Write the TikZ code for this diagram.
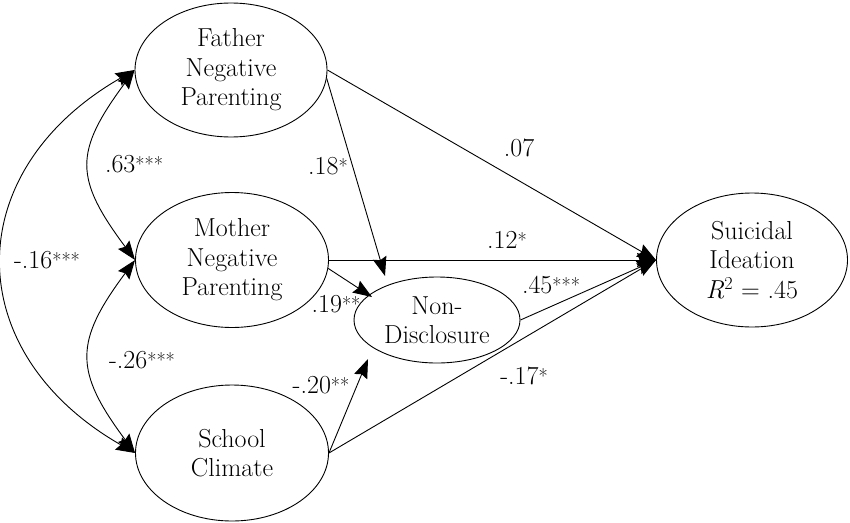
\documentclass[tikz,border=0pt]{standalone}
\usetikzlibrary{shapes.geometric,arrows.meta}
\newcommand\sigst[1]{\raisebox{1pt}{\fontsize{20}{20}\selectfont #1}}
\begin{document}
\begin{tikzpicture}[x=1pt,y=1pt,
  lv/.style={ellipse,draw,line width=0.9pt,inner sep=0pt,align=center,font=\fontsize{26}{29.5}\selectfont},
  lbl/.style={font=\fontsize{26}{30}\selectfont,inner sep=0pt},
  tipst/.tip={Stealth[length=19pt,width=14pt,inset=2.5pt]},
  arr/.style={line width=0.9pt,-tipst},
  cov/.style={line width=0.9pt,tipst-tipst}]
\fill[white] (0,0) rectangle (850,-522);
\useasboundingbox (0,0) rectangle (850,-522);
% latent variables
\node[lv,minimum width=192pt,minimum height=134pt] (f) at (231,-70) {Father\\Negative\\Parenting};
\node[lv,minimum width=193pt,minimum height=135pt] (m) at (232,-260) {Mother\\Negative\\Parenting};
\node[lv,minimum width=193pt,minimum height=136pt] (s) at (232,-453) {School\\Climate};
\node[lv,minimum width=166pt,minimum height=86pt] (nd) at (437,-320) {Non-\\Disclosure};
\node[lv,minimum width=191pt,minimum height=134pt] (si) at (752,-260) {Suicidal\\Ideation\\\textit{R}\textsuperscript{2} = .45};
% free ends of arrows
\coordinate (t18) at (385,-276);
\coordinate (t19) at (372,-297);
\coordinate (t20) at (368,-359);
% paths
\draw[arr] (f.east) -- (si.west);
\draw[arr] (f.-5) -- (t18);
\draw[arr] (m.east) -- (si.west);
\draw[arr] (m.-5) -- (t19);
\draw[arr] (s.east) -- (t20);
\draw[arr] (s.east) -- (si.west);
\draw[arr] (nd.east) -- (si.west);
% covariances
\draw[cov] (f.west) .. controls (74,-152) and (74,-178) .. (m.west);
\draw[cov] (m.west) .. controls (74,-342) and (74,-371) .. (s.west);
\draw[cov] (f.west) .. controls (-41,-171) and (-41,-352) .. (s.west);
% labels
\node[lbl] (l07) at (519,-148) {.07};
\node[lbl] (l18) at (328,-166) {.18\sigst{*}};
\node[lbl] (l12) at (507,-240) {.12\sigst{*}};
\node[lbl] (l63) at (134,-164) {.63\sigst{***}};
\node[lbl] (l16) at (47,-260) {-.16\sigst{***}};
\node[lbl] (l26) at (142,-360) {-.26\sigst{***}};
\node[lbl] (l19) at (336,-304) {.19\sigst{**}};
\node[lbl] (l20) at (321,-385) {-.20\sigst{**}};
\node[lbl] (l45) at (551,-285) {.45\sigst{***}};
\node[lbl] (l17) at (524,-376) {-.17\sigst{*}};
\end{tikzpicture}
\end{document}
